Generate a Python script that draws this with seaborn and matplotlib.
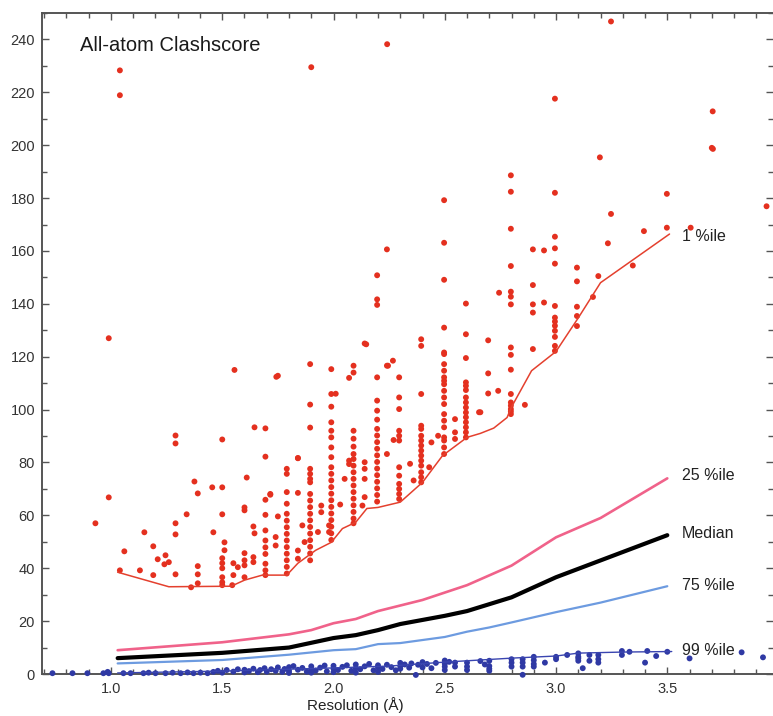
import numpy as np
import pandas as pd
import matplotlib
matplotlib.use("Agg")
import matplotlib.pyplot as plt
from matplotlib.ticker import MultipleLocator
import seaborn as sns

# ---------------- data ----------------
# outliers above the 1 %ile line (red)
red_x = [0.93, 0.99, 0.99, 1.04, 1.04, 1.06, 1.04, 1.15, 1.13, 1.19, 1.19, 1.21, 1.245, 1.26, 1.24,
         1.29, 1.29, 1.29, 1.29, 1.29, 1.34, 1.375, 1.39, 1.36, 1.39, 1.39, 1.39, 1.455, 1.5, 1.5,
         1.5, 1.46, 1.51, 1.51, 1.5, 1.5, 1.5, 1.5, 1.5, 1.5, 1.55, 1.55, 1.555, 1.545, 1.57,
         1.6, 1.6, 1.6, 1.6, 1.6, 1.6, 1.61, 1.64, 1.645, 1.64, 1.64, 1.645, 1.743, 1.84, 1.716,
         # 1.7 column
         1.694, 1.694, 1.694, 1.694, 1.694, 1.694, 1.694, 1.694, 1.694, 1.694, 1.694,
         # 1.8 column
         1.79, 1.79, 1.79, 1.79, 1.79, 1.79, 1.79, 1.79, 1.79, 1.79, 1.79, 1.79, 1.79, 1.79,
         1.75, 1.74, 1.74, 1.716, 1.84, 1.86, 1.87, 1.84, 1.84, 1.84, 1.75,
         # 1.9 column
         1.895, 1.895, 1.895, 1.895, 1.895, 1.895, 1.895, 1.895, 1.895, 1.895, 1.895, 1.895,
         1.895, 1.895, 1.895, 1.895, 1.895, 1.895, 1.9,
         1.945, 1.945, 1.93, 1.98, 1.98,
         # 2.0 column
         1.99, 1.99, 1.99, 1.99, 1.99, 1.99, 1.99, 1.99, 1.99, 1.99, 1.99, 1.99, 1.99, 1.99,
         1.99, 1.99, 1.99, 1.99, 1.99, 1.99, 2.01,
         2.03, 2.05, 2.07, 2.07, 2.07,
         # 2.1 column
         2.09, 2.09, 2.09, 2.09, 2.09, 2.09, 2.09, 2.09, 2.09, 2.09, 2.09, 2.09, 2.09, 2.09,
         2.09, 2.09, 2.09,
         2.14, 2.14, 2.14, 2.14, 2.14, 2.13, 2.147,
         # 2.2 column
         2.196, 2.196, 2.196, 2.196, 2.196, 2.196, 2.196, 2.196, 2.196, 2.196, 2.196, 2.196,
         2.196, 2.196, 2.196, 2.196, 2.196, 2.196, 2.196,
         2.24, 2.245, 2.267, 2.27, 2.24, 2.241, 2.24,
         # 2.3 column
         2.295, 2.295, 2.295, 2.295, 2.295, 2.295, 2.295, 2.295, 2.295, 2.295, 2.295, 2.295,
         2.344, 2.36,
         # 2.4 column
         2.394, 2.394, 2.394, 2.394, 2.394, 2.394, 2.394, 2.394, 2.394, 2.394, 2.394, 2.394,
         2.394, 2.394, 2.394,
         2.44, 2.43, 2.47, 2.546, 2.546, 2.546,
         # 2.5 column
         2.497, 2.497, 2.497, 2.497, 2.497, 2.497, 2.497, 2.497, 2.497, 2.497, 2.497, 2.497,
         2.497, 2.497, 2.497, 2.497, 2.497, 2.497, 2.497, 2.497, 2.497,
         # 2.6 column
         2.595, 2.595, 2.595, 2.595, 2.595, 2.595, 2.595, 2.595, 2.595, 2.595, 2.595, 2.595,
         2.595, 2.595, 2.595,
         2.654, 2.695, 2.695, 2.695, 2.74, 2.744, 2.66,
         # 2.8 column
         2.797, 2.797, 2.797, 2.797, 2.797, 2.797, 2.797, 2.797, 2.797, 2.797, 2.797, 2.797,
         2.797, 2.797, 2.797, 2.797, 2.86,
         # 2.9 column
         2.896, 2.896, 2.896, 2.896, 2.896, 2.946, 2.946,
         # 3.0 column
         2.995, 2.995, 2.995, 2.995, 2.995, 2.995, 2.995, 2.995, 2.995, 2.995, 2.995, 2.995, 2.995,
         # 3.1 column
         3.094, 3.094, 3.094, 3.094, 3.094,
         3.166, 3.19, 3.197, 3.233, 3.247, 3.247, 3.345, 3.395, 3.498, 3.498, 3.605, 3.70,
         3.705, 3.704, 3.946]
red_y = [57, 66.8, 127, 228.3, 218.9, 46.4, 39.2, 53.6, 39.2, 48.3, 37.4, 43.4, 44.9, 42.3, 41.5,
         90.2, 87.2, 57, 52.8, 37.7, 60.4, 72.8, 68.3, 32.8, 40.8, 37.7, 34.3, 70.6, 70.6, 88.7,
         60.4, 53.6, 49.8, 46.8, 43.8, 41.9, 40, 36.6, 34.7, 33.6, 41.9, 37.4, 115, 33.6, 40.4,
         63, 61.9, 45.7, 43, 41.1, 36.6, 74.3, 55.8, 53.2, 44.2, 42.3, 93.3, 112.4, 81.6, 67.8,
         92.9, 82.2, 65.9, 60.2, 54.3, 50.5, 47.9, 45.4, 41.7, 39.2, 37.4,
         77.6, 75.7, 68.8, 64.4, 60.6, 58, 55.5, 53, 50.5, 48, 45.5, 43, 40.5, 38,
         59.6, 51.8, 48.6, 68.1, 68.5, 56.2, 49.9, 46.7, 43.6, 81.7, 112.8,
         117.2, 101.9, 93.2, 77.6, 75.7, 73.8, 72.5, 68.1, 65.6, 63.1, 60.6, 58.1,
         55.6, 53.1, 50.6, 48.1, 45.6, 43, 229.5,
         63.7, 61.2, 53.7, 56.2, 53.7,
         115.3, 105.9, 101.1, 95.2, 92, 89.5, 85.7, 82, 78.2, 75.7, 73.2, 70.7, 68.2, 65.7,
         63.2, 60.7, 58.2, 55.7, 53.2, 50.7, 106,
         64.1, 73.8, 80.7, 79.4, 112,
         116.6, 114, 92, 89, 86, 83.2, 81.3, 78.8, 76.3, 73.8, 71.3, 68.8, 66.3, 63.8,
         61.3, 58.8, 57,
         125, 80.1, 77.6, 73.8, 66.9, 63.7, 124.7,
         150.8, 141.7, 139.6, 112.2, 103.4, 99.6, 96.2, 92.7, 90.2, 87.7, 85.2, 82.7,
         80.2, 77.7, 75.2, 72.7, 70.2, 67.7, 65.2,
         160.6, 116.6, 118.5, 88.5, 83.2, 238.2, 116.6,
         112.2, 104.6, 100.2, 92, 90.1, 88.3, 78.2, 75, 71.9, 70, 68.1, 66.2,
         79.5, 73.2,
         126.6, 124.1, 105.9, 93.9, 92.7, 90.1, 88.3, 86.4, 84.5, 82.6, 80.7, 78.8,
         76.3, 74.4, 72.5,
         87.6, 78.2, 90.1, 96.4, 91.4, 88.9,
         179.2, 163.1, 149.1, 131, 121.6, 121, 117.2, 114.7, 112.2, 110.9, 109.6, 107.1,
         104.6, 102.1, 98.3, 95.8, 93.3, 89.5, 88.3, 85.7, 83.2,
         140.1, 128.5, 119.5, 110.3, 109, 107.4, 104.6, 102.7, 100.8, 98.9, 97.1, 95.2,
         93.3, 91.4, 89.5,
         99, 126.2, 113.7, 106.1, 107.1, 144.2, 99,
         188.6, 182.4, 168.4, 154.3, 144.6, 142.7, 139.8, 123.5, 120.7, 115.1, 105.9, 102.7,
         101.5, 100.2, 99.3, 98.3, 101.8,
         160.6, 147.1, 139.8, 136.7, 122.9, 160.2, 140.5,
         217.6, 182, 165.4, 161, 155.2, 139.2, 134.8, 133.3, 131.7, 129.8, 127.5, 124.1, 122.2,
         153.7, 148.5, 138.9, 135.4, 131.6,
         142.6, 150.5, 195.4, 162.9, 174, 246.8, 154.5, 167.5, 181.6, 168.8, 168.8, 199,
         198.6, 212.8, 176.9]

# points below the 99 %ile line (blue)
blue_x = [0.737, 0.827, 0.894, 0.966, 0.985, 0.99, 1.056, 1.088, 1.146, 1.169, 1.2, 1.245, 1.277,
          1.313, 1.344, 1.371, 1.402, 1.434,
          1.46, 1.48, 1.5, 1.52, 1.55, 1.57, 1.6, 1.6, 1.62, 1.64, 1.66, 1.67, 1.69, 1.7, 1.72,
          1.74, 1.75, 1.77, 1.78, 1.8, 1.8, 1.8, 1.82, 1.84, 1.86, 1.88, 1.9, 1.9, 1.9, 1.92,
          1.94, 1.96, 1.97, 2.0, 2.0, 2.0, 2.02, 2.04, 2.06, 2.08, 2.1, 2.1, 2.1, 2.12, 2.14,
          2.16, 2.18, 2.2, 2.2, 2.2, 2.22, 2.24, 2.26, 2.28, 2.3, 2.3, 2.3, 2.32, 2.34, 2.35,
          2.37, 2.38, 2.4, 2.4, 2.42, 2.44, 2.46, 2.5, 2.5, 2.5, 2.5, 2.52, 2.546, 2.546, 2.6,
          2.6, 2.6, 2.66, 2.68, 2.7, 2.7, 2.7, 2.7, 2.8, 2.8, 2.8, 2.85, 2.85, 2.85, 2.85, 2.9,
          2.9, 2.9, 2.9, 2.95, 3.0, 3.0, 3.05, 3.1, 3.1, 3.1, 3.1, 3.12, 3.15, 3.15, 3.19, 3.19,
          3.19, 3.296, 3.296, 3.33, 3.4, 3.41, 3.45, 3.5, 3.6, 3.834, 3.93]
blue_y = [0.3, 0.3, 0.3, 0.3, 0.8, 0.3, 0.3, 0.3, 0.3, 0.5, 0.3, 0.3, 0.5,
          0.3, 0.6, 0.3, 0.5, 0.3,
          0.8, 1.2, 0.5, 1.5, 0.9, 1.8, 0.6, 1.6, 1.1, 2.0, 0.7, 1.5, 2.2, 0.9, 1.8,
          1.2, 2.5, 0.8, 1.9, 1.2, 2.6, 0.4, 3.0, 1.6, 2.3, 0.9, 1.8, 2.9, 0.5, 1.3,
          2.4, 3.2, 1.0, 2.0, 3.1, 0.7, 1.5, 2.7, 3.3, 1.2, 2.2, 3.6, 0.5, 1.8, 2.9,
          3.8, 1.4, 2.5, 3.3, 0.8, 1.9, 3.5, 2.6, 1.4, 3.0, 4.2, 2.0, 3.6, 2.4, 4.0,
          -0.35, 3.5, 2.5, 4.5, 3.8, 2.2, 4.2, 5.1, 3.9, 2.8, 1.5, 4.6, 4.3, 2.8, 4.3,
          2.8, 1.5, 4.9, 3.6, 5.0, 3.0, 2.0, 1.2, 5.6, 4.3, 2.8, 5.6, 4.3, 2.8, -0.3, 6.5,
          5.2, 3.8, 2.8, 4.3, 6.5, 5.6, 7.2, 7.8, 6.5, 5.9, 5.0, 2.2, 7.2, 5.0, 7.2, 5.6,
          4.3, 8.7, 7.2, 8.4, 4.3, 8.7, 6.8, 8.4, 5.9, 8.2, 6.3]

# percentile curves
p1_x = [1.03, 1.26, 1.54, 1.6, 1.68, 1.79, 1.84, 1.92, 1.99, 2.04, 2.10, 2.15, 2.2, 2.3, 2.4,
        2.49, 2.6, 2.66, 2.72, 2.78, 2.8, 2.89, 3.0, 3.1, 3.2, 3.51]
p1_y = [38.5, 33, 33.2, 35.5, 37.4, 37.4, 41.9, 46.8, 49.8, 55, 57.4, 62.6, 63, 65, 72.5,
        82.6, 89.5, 91, 93, 97, 101, 114.7, 122, 134.7, 148, 166.4]
p25_x = [1.03, 1.5, 1.7, 1.8, 1.9, 2.0, 2.1, 2.2, 2.4, 2.6, 2.8, 3.0, 3.2, 3.5]
p25_y = [9, 12, 14, 15, 16.6, 19.2, 20.8, 23.8, 28, 33.6, 41, 51.7, 59, 74]
p50_x = [1.03, 1.5, 1.8, 2.0, 2.1, 2.2, 2.3, 2.5, 2.6, 2.8, 3.0, 3.5]
p50_y = [6, 8, 10, 13.6, 14.7, 16.6, 18.9, 22, 23.8, 29, 36.6, 52.5]
p75_x = [1.03, 1.5, 1.8, 2.0, 2.1, 2.2, 2.3, 2.5, 2.6, 2.7, 2.8, 3.0, 3.2, 3.5]
p75_y = [4, 5.3, 7.3, 9, 9.4, 11.3, 11.7, 14, 16, 17.6, 19.5, 23.4, 27, 33.2]
p99_x = [1.03, 1.5, 2.0, 2.25, 2.5, 2.8, 3.0, 3.1, 3.3, 3.52]
p99_y = [0.4, 1.1, 2.3, 3.0, 4.5, 6.0, 6.8, 7.9, 8.3, 8.5]

curve_labels = ["1 %ile", "25 %ile", "Median", "75 %ile", "99 %ile"]
label_y = [165.5, 75, 53, 33.5, 9]

# ---------------- plotting ----------------
sns.set_theme(style="white")
plt.rcParams["font.family"] = ["Liberation Sans", "DejaVu Sans"]

fig = plt.figure(figsize=(7.73, 7.16), dpi=100)
ax = fig.add_axes([42 / 773, 42 / 716, 1 - 42 / 773, 661 / 716])

red_df = pd.DataFrame({"res": red_x, "clash": red_y})
blue_df = pd.DataFrame({"res": blue_x, "clash": blue_y})

sns.scatterplot(data=red_df, x="res", y="clash", ax=ax, color="#e4301f", s=18,
                edgecolor="none", zorder=3)
sns.scatterplot(data=blue_df, x="res", y="clash", ax=ax, color="#2f39a4", s=18,
                edgecolor="none", zorder=3, clip_on=False)

curves = [
    (p1_x, p1_y, "#e4402e", 1.1),
    (p25_x, p25_y, "#f0628a", 1.9),
    (p50_x, p50_y, "#000000", 3.0),
    (p75_x, p75_y, "#6d9be0", 1.6),
    (p99_x, p99_y, "#3a45b0", 1.0),
]
for xs, ys, col, lw in curves:
    sns.lineplot(x=xs, y=ys, ax=ax, color=col, linewidth=lw, estimator=None,
                 sort=False, zorder=4)

for lab, ly in zip(curve_labels, label_y):
    ax.text(3.565, ly, lab, fontsize=11.5, color="#222222", ha="left", va="center")

ax.text(0.052, 0.951, "All-atom Clashscore", transform=ax.transAxes, fontsize=14.5,
        color="#1a1a1a", ha="left", va="center")

ax.set_xlim(0.69, 3.975)
ax.set_ylim(0, 250)
ax.set_xlabel("")
ax.set_ylabel("")
fig.text(355 / 773, 1 - 705 / 716, "Resolution (Å)", fontsize=11, color="#222222",
         ha="center", va="center")

ax.xaxis.set_major_locator(MultipleLocator(0.5))
ax.xaxis.set_minor_locator(MultipleLocator(0.1))
ax.yaxis.set_major_locator(MultipleLocator(20))
ax.yaxis.set_minor_locator(MultipleLocator(10))
ax.set_xticks([1.0, 1.5, 2.0, 2.5, 3.0, 3.5])
ax.set_xticklabels(["1.0", "1.5", "2.0", "2.5", "3.0", "3.5"])
ax.set_yticks(list(range(0, 241, 20)))
ax.set_yticklabels([str(v) for v in range(0, 241, 20)])

ax.tick_params(which="both", direction="in", top=True, bottom=True, left=True, right=True,
               color="#555555", labelsize=10.5, labelcolor="#333333")
ax.tick_params(which="major", length=5, width=1)
ax.tick_params(which="minor", length=3.5, width=1)
ax.tick_params(axis="x", pad=6)
ax.tick_params(axis="y", pad=5)

for side in ["left", "bottom", "top"]:
    ax.spines[side].set_visible(True)
    ax.spines[side].set_color("#555555")
    ax.spines[side].set_linewidth(1.4)
ax.spines["right"].set_visible(False)
ax.grid(False)
ax.set_facecolor("white")

fig.savefig("out.png", dpi=100, facecolor="white")
